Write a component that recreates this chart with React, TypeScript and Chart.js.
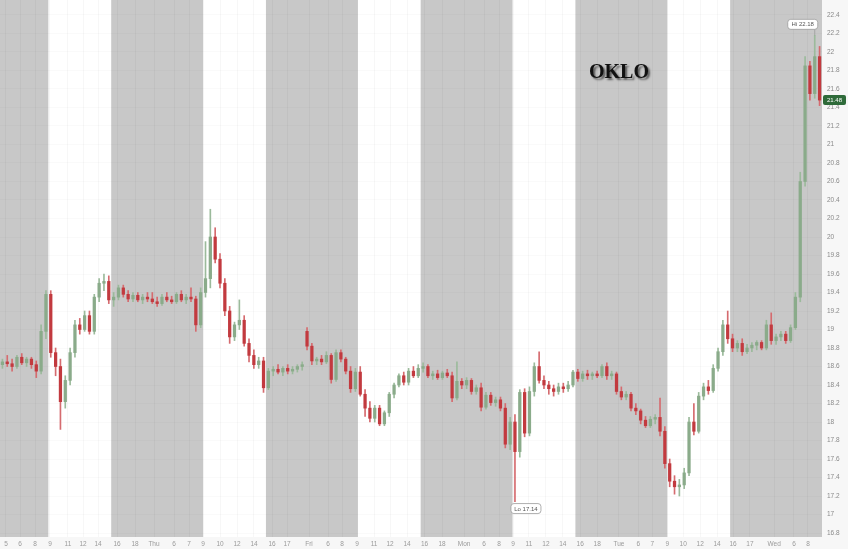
import React, { useEffect, useRef } from 'react';
import { Chart, registerables } from 'chart.js';

Chart.register(...registerables);

// 30-minute candles, extended hours (4:00-20:00), first slot = Wed 4:30
const opens = [
  18.62, 18.65, 18.63, 18.6, 18.7, 18.64, 18.68, 18.62, 18.55, 18.98,
  19.38, 18.75, 18.6, 18.22, 18.45, 18.75, 19.05, 19.0, 19.15, 18.98,
  19.35, 19.5, 19.52, 19.32, 19.35, 19.45, 19.38, 19.33, 19.37, 19.32,
  19.35, 19.33, 19.3, 19.28, 19.35, 19.32, 19.3, 19.38, 19.32, 19.35,
  19.33, 19.05, 19.4, 19.55, 20.0, 19.76, 19.5, 19.2, 18.92, 19.05,
  19.1, 18.85, 18.72, 18.62, 18.66, 18.37, 18.55, 18.57, 18.54, 18.58,
  18.55, 18.57, 18.6, 18.98, 18.82, 18.66, 18.68, 18.65, 18.72, 18.46,
  18.75, 18.68, 18.55, 18.36, 18.54, 18.3, 18.15, 18.04, 18.15, 17.98,
  18.1, 18.3, 18.4, 18.5, 18.43, 18.55, 18.5, 18.58, 18.6, 18.5,
  18.52, 18.48, 18.53, 18.5, 18.26, 18.44, 18.4, 18.45, 18.33, 18.37,
  18.16, 18.29, 18.21, 18.24, 18.15, 17.76, 18.0, 17.68, 18.32, 17.88,
  18.33, 18.6, 18.45, 18.4, 18.36, 18.33, 18.38, 18.36, 18.4, 18.54,
  18.47, 18.52, 18.5, 18.52, 18.5, 18.6, 18.5, 18.52, 18.33, 18.27,
  18.3, 18.15, 18.12, 18.02, 17.96, 18.03, 18.05, 17.9, 17.55, 17.36,
  17.3, 17.32, 17.45, 18.0, 17.9, 18.28, 18.38, 18.34, 18.58, 18.76,
  19.05, 18.9, 18.8, 18.85, 18.76, 18.8, 18.83, 18.86, 18.8, 19.05,
  18.88, 18.92, 18.95, 18.88, 19.02, 19.35, 20.6, 21.85, 21.55, 21.95,
];
const highs = [
  18.68, 18.72, 18.68, 18.72, 18.74, 18.7, 18.7, 18.66, 19.05, 19.42,
  19.42, 18.8, 18.68, 18.5, 18.8, 19.1, 19.12, 19.2, 19.2, 19.38,
  19.55, 19.6, 19.58, 19.4, 19.48, 19.48, 19.42, 19.4, 19.4, 19.38,
  19.4, 19.4, 19.35, 19.38, 19.4, 19.36, 19.4, 19.42, 19.38, 19.45,
  19.36, 19.45, 19.95, 20.3, 20.1, 19.82, 19.55, 19.25, 19.08, 19.32,
  19.15, 18.9, 18.78, 18.7, 18.7, 18.58, 18.6, 18.62, 18.6, 18.62,
  18.6, 18.62, 18.65, 19.02, 18.85, 18.7, 18.72, 18.76, 18.74, 18.78,
  18.78, 18.7, 18.6, 18.58, 18.6, 18.35, 18.22, 18.18, 18.18, 18.12,
  18.32, 18.42, 18.52, 18.54, 18.58, 18.6, 18.62, 18.64, 18.62, 18.55,
  18.56, 18.55, 18.57, 18.54, 18.65, 18.47, 18.48, 18.47, 18.4, 18.42,
  18.32, 18.32, 18.27, 18.27, 18.2, 18.05, 18.08, 18.35, 18.36, 18.38,
  18.64, 18.76, 18.5, 18.44, 18.4, 18.42, 18.42, 18.44, 18.56, 18.57,
  18.55, 18.56, 18.54, 18.55, 18.62, 18.64, 18.55, 18.54, 18.38, 18.33,
  18.32, 18.2, 18.14, 18.06, 18.06, 18.08, 18.26, 17.95, 17.6, 17.42,
  17.38, 17.5, 18.05, 18.2, 18.32, 18.42, 18.45, 18.62, 18.8, 19.1,
  19.2, 18.95, 18.88, 18.9, 18.84, 18.86, 18.88, 18.88, 19.1, 19.18,
  18.95, 18.98, 18.98, 19.05, 19.4, 20.7, 21.95, 21.9, 22.18, 22.06,
];
const lows = [
  18.58, 18.6, 18.55, 18.58, 18.62, 18.6, 18.58, 18.48, 18.52, 18.9,
  18.7, 18.5, 17.92, 18.15, 18.4, 18.7, 18.95, 18.98, 18.95, 18.95,
  19.3, 19.42, 19.28, 19.25, 19.32, 19.35, 19.3, 19.3, 19.3, 19.28,
  19.3, 19.28, 19.25, 19.26, 19.3, 19.28, 19.28, 19.3, 19.28, 19.3,
  18.98, 19.02, 19.35, 19.45, 19.72, 19.45, 19.15, 18.85, 18.88, 19.0,
  18.82, 18.65, 18.58, 18.58, 18.32, 18.35, 18.5, 18.52, 18.5, 18.52,
  18.52, 18.54, 18.56, 18.78, 18.62, 18.62, 18.62, 18.63, 18.42, 18.44,
  18.65, 18.52, 18.32, 18.33, 18.28, 18.06, 18.0, 18.0, 17.96, 17.96,
  18.06, 18.26, 18.38, 18.4, 18.4, 18.48, 18.48, 18.54, 18.48, 18.46,
  18.46, 18.46, 18.48, 18.22, 18.24, 18.36, 18.36, 18.3, 18.3, 18.12,
  18.14, 18.18, 18.17, 18.12, 17.72, 17.7, 17.14, 17.62, 17.84, 17.85,
  18.28, 18.42, 18.36, 18.3, 18.28, 18.3, 18.32, 18.33, 18.38, 18.44,
  18.44, 18.46, 18.46, 18.48, 18.48, 18.46, 18.46, 18.3, 18.24, 18.24,
  18.12, 18.08, 17.98, 17.94, 17.94, 17.98, 17.85, 17.5, 17.3, 17.22,
  17.2, 17.28, 17.42, 17.86, 17.88, 18.24, 18.3, 18.32, 18.55, 18.72,
  18.85, 18.76, 18.76, 18.72, 18.74, 18.76, 18.78, 18.78, 18.78, 18.84,
  18.84, 18.88, 18.85, 18.86, 19.0, 19.3, 20.55, 21.48, 21.5, 21.42,
];
const closes = [
  18.65, 18.63, 18.6, 18.7, 18.64, 18.68, 18.62, 18.55, 18.98, 19.38,
  18.75, 18.6, 18.22, 18.45, 18.75, 19.05, 19.0, 19.15, 18.98, 19.35,
  19.5, 19.52, 19.32, 19.35, 19.45, 19.38, 19.33, 19.37, 19.32, 19.35,
  19.33, 19.3, 19.28, 19.35, 19.32, 19.3, 19.38, 19.32, 19.35, 19.33,
  19.05, 19.4, 19.55, 20.0, 19.76, 19.5, 19.2, 18.92, 19.05, 19.1,
  18.85, 18.72, 18.62, 18.66, 18.37, 18.55, 18.57, 18.54, 18.58, 18.55,
  18.57, 18.6, 18.62, 18.82, 18.66, 18.68, 18.65, 18.72, 18.46, 18.75,
  18.68, 18.55, 18.36, 18.54, 18.3, 18.15, 18.04, 18.15, 17.98, 18.1,
  18.3, 18.4, 18.5, 18.43, 18.55, 18.5, 18.58, 18.6, 18.5, 18.52,
  18.48, 18.53, 18.5, 18.26, 18.44, 18.4, 18.45, 18.33, 18.37, 18.16,
  18.29, 18.21, 18.24, 18.15, 17.76, 18.0, 17.68, 18.32, 17.88, 18.33,
  18.6, 18.45, 18.4, 18.36, 18.33, 18.38, 18.36, 18.4, 18.54, 18.47,
  18.52, 18.5, 18.52, 18.5, 18.6, 18.5, 18.52, 18.33, 18.27, 18.3,
  18.15, 18.12, 18.02, 17.96, 18.03, 18.05, 17.9, 17.55, 17.36, 17.3,
  17.32, 17.45, 18.0, 17.9, 18.28, 18.38, 18.34, 18.58, 18.76, 19.05,
  18.9, 18.8, 18.85, 18.76, 18.8, 18.83, 18.86, 18.8, 19.05, 18.88,
  18.92, 18.95, 18.88, 19.02, 19.35, 20.6, 21.85, 21.55, 21.95, 21.48,
];

// regular-session (9:30-16:00) slot ranges; everything else is shaded
const sessionOpenSlots = [10, 42, 74, 106, 138];
const sessionCloseSlots = [23, 55, 87, 119, 151];

const xTickSlots = [
  0.74, 3.64, 6.74, 9.84, 13.56, 16.67, 19.77, 23.7, 27.42,
  31.35, 35.49, 38.59, 41.49, 45.0, 48.52, 52.03, 55.76, 58.86,
  63.41, 67.34, 70.23, 73.34, 76.85, 80.16, 83.68, 87.3, 90.92,
  95.47, 99.6, 102.7, 105.6, 108.9, 112.4, 115.9, 119.5, 123.0,
  127.5, 131.5, 134.4, 137.5, 140.8, 144.3, 147.8, 151.1, 154.6,
  159.6, 163.7, 166.6,
];
const xTickLabels = [
  '5', '6', '8', '9', '11', '12', '14', '16', '18',
  'Thu', '6', '7', '9', '10', '12', '14', '16', '17',
  'Fri', '6', '8', '9', '11', '12', '14', '16', '18',
  'Mon', '6', '8', '9', '11', '12', '14', '16', '18',
  'Tue', '6', '7', '9', '10', '12', '14', '16', '17',
  'Wed', '6', '8',
];
const yTickValues = [
  16.8, 17, 17.2, 17.4, 17.6, 17.8, 18, 18.2, 18.4, 18.6, 18.8, 19, 19.2, 19.4,
  19.6, 19.8, 20, 20.2, 20.4, 20.6, 20.8, 21, 21.2, 21.4, 21.6, 21.8, 22, 22.2, 22.4,
];
const ticker = 'OKLO';

const UP_BODY = '#8aab8a';
const DOWN_BODY = '#c23a3f';
const UP_WICK = '#9bba9b';
const DOWN_WICK = '#d56b6f';

function rrect(ctx: CanvasRenderingContext2D, x: number, y: number, w: number, h: number, r: number) {
  ctx.beginPath();
  ctx.moveTo(x + r, y);
  ctx.lineTo(x + w - r, y);
  ctx.quadraticCurveTo(x + w, y, x + w, y + r);
  ctx.lineTo(x + w, y + h - r);
  ctx.quadraticCurveTo(x + w, y + h, x + w - r, y + h);
  ctx.lineTo(x + r, y + h);
  ctx.quadraticCurveTo(x, y + h, x, y + h - r);
  ctx.lineTo(x, y + r);
  ctx.quadraticCurveTo(x, y, x + r, y);
  ctx.closePath();
}

export default function App() {
  const ref = useRef<HTMLCanvasElement>(null);

  useEffect(() => {
    document.body.style.margin = '0';
    const canvas = ref.current;
    if (!canvas) return;

    const idx = opens.map((_, i) => i);
    const up = idx.map((i) => closes[i] >= opens[i]);

    let hiI = 0;
    let loI = 0;
    idx.forEach((i) => {
      if (highs[i] > highs[hiI]) hiI = i;
      if (lows[i] < lows[loI]) loI = i;
    });

    const bgPlugin = {
      id: 'bgBands',
      beforeDraw(chart: any) {
        const { ctx, chartArea: a, scales } = chart;
        const x = scales.x;
        ctx.save();
        ctx.fillStyle = '#f7f7f7';
        ctx.fillRect(0, 0, chart.width, chart.height);
        ctx.fillStyle = '#c8c8c8';
        ctx.fillRect(a.left, a.top, a.right - a.left, a.bottom - a.top);
        ctx.fillStyle = '#ffffff';
        sessionOpenSlots.forEach((s, i) => {
          const x0 = x.getPixelForValue(s - 0.5);
          const x1 = x.getPixelForValue(sessionCloseSlots[i] - 0.5);
          ctx.fillRect(x0, a.top, x1 - x0, a.bottom - a.top);
        });
        ctx.restore();
      },
    };

    const annPlugin = {
      id: 'annotations',
      afterDraw(chart: any) {
        const { ctx, chartArea: a, scales } = chart;
        const x = scales.x;
        const y = scales.y;
        ctx.save();

        // title
        ctx.font = 'bold 20px "Liberation Serif", "Times New Roman", serif';
        ctx.textAlign = 'center';
        ctx.textBaseline = 'middle';
        ctx.shadowColor = 'rgba(0,0,0,0.55)';
        ctx.shadowOffsetX = 2;
        ctx.shadowOffsetY = 2;
        ctx.shadowBlur = 2;
        ctx.fillStyle = '#111111';
        ctx.fillText(ticker, a.left + (a.right - a.left) * 0.753, a.top + 73);
        ctx.shadowColor = 'transparent';
        ctx.shadowOffsetX = 0;
        ctx.shadowOffsetY = 0;
        ctx.shadowBlur = 0;

        ctx.font = '6px "Liberation Sans", Arial, sans-serif';
        ctx.textBaseline = 'middle';
        ctx.textAlign = 'center';

        // Hi label
        const hx = x.getPixelForValue(hiI);
        const hy = y.getPixelForValue(highs[hiI]);
        const hiText = 'Hi ' + highs[hiI].toFixed(2);
        const bw = 30;
        const bh = 10;
        const hbx = hx + 3 - bw;
        const hby = hy - 16;
        ctx.strokeStyle = '#9a9a9a';
        ctx.lineWidth = 0.8;
        ctx.beginPath();
        ctx.moveTo(hx, hby + bh);
        ctx.lineTo(hx, hy);
        ctx.stroke();
        rrect(ctx, hbx, hby, bw, bh, 3);
        ctx.fillStyle = '#ffffff';
        ctx.fill();
        ctx.stroke();
        ctx.fillStyle = '#555555';
        ctx.fillText(hiText, hbx + bw / 2, hby + bh / 2 + 0.5);

        // Lo label
        const lx = x.getPixelForValue(loI);
        const ly = y.getPixelForValue(lows[loI]);
        const loText = 'Lo ' + lows[loI].toFixed(2);
        const lbx = lx - 4;
        const lby = ly + 2;
        rrect(ctx, lbx, lby, bw, bh, 3);
        ctx.fillStyle = '#ffffff';
        ctx.fill();
        ctx.strokeStyle = '#9a9a9a';
        ctx.stroke();
        ctx.fillStyle = '#555555';
        ctx.fillText(loText, lbx + bw / 2, lby + bh / 2 + 0.5);

        // last price tag
        const last = closes[closes.length - 1];
        const py = y.getPixelForValue(last);
        rrect(ctx, a.right + 1, py - 5, 23, 10, 2);
        ctx.fillStyle = '#2f6b3a';
        ctx.fill();
        ctx.fillStyle = '#ffffff';
        ctx.fillText(last.toFixed(2), a.right + 12.5, py + 0.5);

        ctx.restore();
      },
    };

    const chart = new Chart(canvas, {
      type: 'bar',
      data: {
        datasets: [
          {
            label: 'wick',
            data: idx.map((i) => ({ x: i, y: [lows[i], highs[i]] })) as any,
            backgroundColor: idx.map((i) => (up[i] ? UP_WICK : DOWN_WICK)),
            barThickness: 1,
            grouped: false,
            order: 2,
            borderWidth: 0,
          } as any,
          {
            label: 'body',
            data: idx.map((i) => ({
              x: i,
              y: [Math.min(opens[i], closes[i]), Math.max(opens[i], closes[i])],
            })) as any,
            backgroundColor: idx.map((i) => (up[i] ? UP_BODY : DOWN_BODY)),
            barThickness: 2.6,
            minBarLength: 1,
            grouped: false,
            order: 1,
            borderWidth: 0,
          } as any,
        ],
      },
      options: {
        animation: false,
        responsive: false,
        events: [],
        layout: { padding: 0 },
        plugins: {
          legend: { display: false },
          tooltip: { enabled: false },
          title: { display: false },
        },
        scales: {
          x: {
            type: 'linear',
            min: -0.5,
            max: opens.length - 0.5,
            offset: false,
            grid: {
              offset: false,
              color: 'rgba(0,0,0,0.03)',
              drawTicks: false,
              lineWidth: 1,
            },
            border: { display: false },
            afterBuildTicks: (scale: any) => {
              scale.ticks = xTickSlots.map((v) => ({ value: v }));
            },
            afterFit: (scale: any) => {
              scale.height = 12;
              scale.paddingLeft = 0;
              scale.paddingRight = 0;
            },
            ticks: {
              autoSkip: false,
              maxRotation: 0,
              minRotation: 0,
              padding: 3,
              color: '#9a9a9a',
              font: { size: 6.5, family: '"Liberation Sans", Arial, sans-serif' },
              callback: (_v: any, i: number) => xTickLabels[i],
            },
          },
          y: {
            type: 'linear',
            position: 'right',
            min: 16.757,
            max: 22.562,
            grid: {
              color: 'rgba(0,0,0,0.018)',
              drawTicks: false,
            },
            border: { display: false },
            afterBuildTicks: (scale: any) => {
              scale.ticks = yTickValues.map((v) => ({ value: v }));
            },
            afterFit: (scale: any) => {
              scale.width = 26;
              scale.paddingTop = 0;
              scale.paddingBottom = 0;
            },
            ticks: {
              padding: 5,
              color: '#8a8a8a',
              font: { size: 6.5, family: '"Liberation Sans", Arial, sans-serif' },
              callback: (v: any) => String(Math.round(Number(v) * 10) / 10),
            },
          },
        },
      } as any,
      plugins: [bgPlugin, annPlugin],
    });

    return () => chart.destroy();
  }, []);

  return (
    <div style={{ width: 848, height: 549, position: 'relative' }}>
      <canvas ref={ref} width={848} height={549} style={{ width: 848, height: 549, display: 'block' }} />
    </div>
  );
}
